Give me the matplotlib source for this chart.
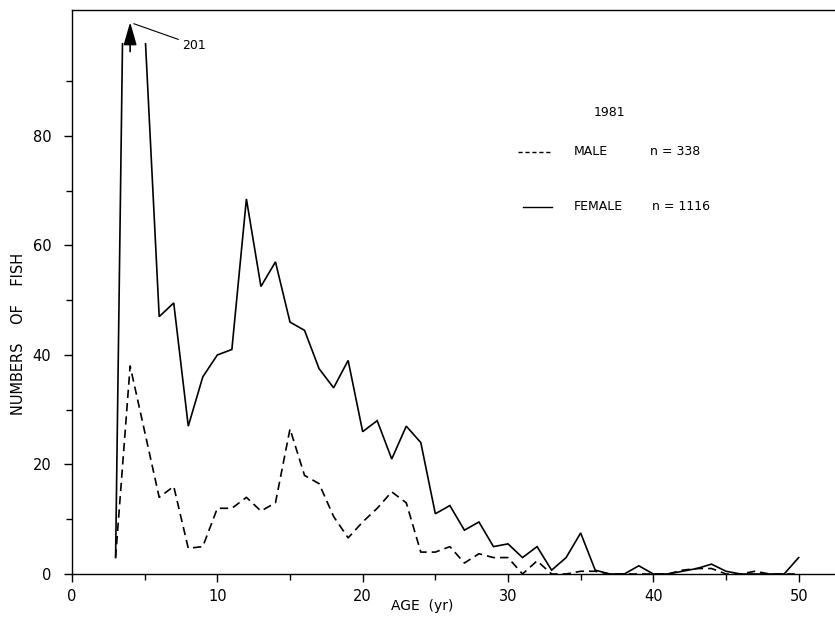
import matplotlib
matplotlib.use("Agg")
import matplotlib.pyplot as plt
from matplotlib.patches import Rectangle
import numpy as np

# Age classes (yr) and counts
ages = np.arange(3, 51)

female = [3, 201, 100, 47, 49.5, 27, 36, 40, 41, 68.5,
          52.5, 57, 46, 44.5, 37.5, 34, 39, 26, 28, 21,
          27, 24, 11, 12.5, 8, 9.5, 5, 5.5, 3, 5,
          0.7, 3, 7.5, 0.7, 0, 0, 1.5, 0, 0, 0.5,
          1, 1.8, 0.5, 0, 0, 0, 0, 3]

male = [3, 38, 26, 14, 16, 4.7, 5, 12, 12, 14,
        11.5, 13, 26.5, 18, 16.5, 10.5, 6.6, 9.5, 12, 15,
        13, 4, 4, 5, 2, 3.7, 3, 3, 0, 2.4,
        0, 0, 0.5, 0.5, 0, 0, 0, 0, 0, 0.7,
        1, 1, 0, 0, 0.5, 0, 0, 0]

n_male = 338
n_female = 1116
year = "1981"

fig = plt.figure(figsize=(8.35, 6.21), dpi=100)
ax = fig.add_axes([72 / 835, 47 / 621, 763 / 835, 564 / 621])

# lines are clipped just below the frame, the off-scale peak gets an arrow
clip = Rectangle((0, 0), 52.5, 97, transform=ax.transData)

l_f, = ax.plot(ages, female, color="black", lw=1.2, solid_joinstyle="miter")
l_m, = ax.plot(ages, male, color="black", lw=1.2, ls=(0, (5, 3)))
l_f.set_clip_path(clip)
l_m.set_clip_path(clip)

ax.set_xlim(0, 52.5)
ax.set_ylim(0, 103)

ax.spines["right"].set_visible(False)
for s in ["left", "bottom", "top"]:
    ax.spines[s].set_linewidth(1.0)

ax.set_xticks(np.arange(0, 51, 10))
ax.set_xticks(np.arange(5, 51, 10), minor=True)
ax.set_yticks(np.arange(0, 81, 20))
ax.set_yticks(np.arange(10, 91, 20), minor=True)
ax.tick_params(axis="both", which="major", direction="out", length=6,
               width=1.0, labelsize=10.5, pad=9)
ax.tick_params(axis="both", which="minor", direction="out", length=4,
               width=1.0)
ax.tick_params(axis="x", which="major", pad=5)

ax.set_xlabel("AGE  (yr)", fontsize=10)
ax.set_ylabel("NUMBERS    OF    FISH", fontsize=10.5)
ax.xaxis.set_label_coords(0.459, -0.045)
ax.yaxis.set_label_coords(-0.06, 0.426)

# off-scale peak
i_max = int(np.argmax(female))
ax.annotate("", xy=(ages[i_max], 100.8), xytext=(ages[i_max], 95.4),
            arrowprops=dict(arrowstyle="-|>,head_width=0.4,head_length=1.4",
                            color="black", lw=1.2, shrinkA=0, shrinkB=0))
ax.annotate(str(int(female[i_max])), xy=(ages[i_max] + 0.25, 100.5),
            xytext=(7.6, 96.6), fontsize=9, va="center", ha="left",
            arrowprops=dict(arrowstyle="-", color="black", lw=0.8,
                            shrinkA=1, shrinkB=0))

# key
ax.text(37.0, 84.3, year, fontsize=9, ha="center", va="center")
ax.plot([30.7, 33.0], [77.1, 77.1], color="black", lw=1.0, ls=(0, (3, 2)))
ax.text(34.5, 77.1, "MALE", fontsize=9, va="center")
ax.text(39.8, 77.1, "n = %d" % n_male, fontsize=9, va="center")
ax.plot([31.0, 33.0], [67.1, 67.1], color="black", lw=1.0)
ax.text(34.55, 67.1, "FEMALE", fontsize=9, va="center")
ax.text(39.9, 67.1, "n = %d" % n_female, fontsize=9, va="center")

fig.savefig("out.png", dpi=100, facecolor="white")
